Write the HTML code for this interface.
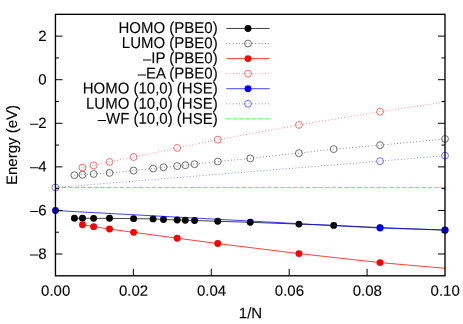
<!DOCTYPE html>
<html><head><meta charset="utf-8"><title>plot</title>
<style>html,body{margin:0;padding:0;background:#fff;overflow:hidden;}svg{display:block;position:absolute;left:0;top:0;will-change:transform;}text{font-family:"Liberation Sans",sans-serif;font-size:15px;fill:#000;stroke:#000;stroke-width:0.1px;text-rendering:geometricPrecision;}</style></head><body>
<svg width="463" height="324" viewBox="0 0 463 324">
<polyline points="74.43,218.15 82.5,218.15 93.64,218.35 109.55,218.3 133.61,218.65 153.09,218.9 163.51,219.5 177.18,220.0 185.3,220.2 194.57,220.5 217.76,221.25 250.23,222.3 298.92,224.1 333.7,225.4 380.07,227.6 445.0,230.15" fill="none" stroke="#000" stroke-width="0.75"/>
<g fill="#000"><circle cx="74.43" cy="218.15" r="3.45"/><circle cx="82.5" cy="218.15" r="3.45"/><circle cx="93.64" cy="218.35" r="3.45"/><circle cx="109.55" cy="218.3" r="3.45"/><circle cx="133.61" cy="218.65" r="3.45"/><circle cx="153.09" cy="218.9" r="3.45"/><circle cx="163.51" cy="219.5" r="3.45"/><circle cx="177.18" cy="220.0" r="3.45"/><circle cx="185.3" cy="220.2" r="3.45"/><circle cx="194.57" cy="220.5" r="3.45"/><circle cx="217.76" cy="221.25" r="3.45"/><circle cx="250.23" cy="222.3" r="3.45"/><circle cx="298.92" cy="224.1" r="3.45"/><circle cx="333.7" cy="225.4" r="3.45"/><circle cx="380.07" cy="227.6" r="3.45"/><circle cx="445.0" cy="230.15" r="3.45"/></g>
<polyline points="74.43,175.2 82.5,174.75 93.64,173.9 109.55,172.9 133.61,170.6 153.09,168.6 163.51,167.3 177.18,166.1 185.3,165.25 194.57,164.15 217.76,161.5 250.23,158.4 298.92,153.15 333.7,149.1 380.07,145.2 445.0,138.95" fill="none" stroke="#000" stroke-width="0.5" stroke-dasharray="0.9 2.31"/>
<g fill="none" stroke="#000" stroke-width="0.56"><circle cx="74.43" cy="175.2" r="3.45"/><circle cx="82.5" cy="174.75" r="3.45"/><circle cx="93.64" cy="173.9" r="3.45"/><circle cx="109.55" cy="172.9" r="3.45"/><circle cx="133.61" cy="170.6" r="3.45"/><circle cx="153.09" cy="168.6" r="3.45"/><circle cx="163.51" cy="167.3" r="3.45"/><circle cx="177.18" cy="166.1" r="3.45"/><circle cx="185.3" cy="165.25" r="3.45"/><circle cx="194.57" cy="164.15" r="3.45"/><circle cx="217.76" cy="161.5" r="3.45"/><circle cx="250.23" cy="158.4" r="3.45"/><circle cx="298.92" cy="153.15" r="3.45"/><circle cx="333.7" cy="149.1" r="3.45"/><circle cx="380.07" cy="145.2" r="3.45"/><circle cx="445.0" cy="138.95" r="3.45"/></g>
<polyline points="82.5,224.7 93.64,226.65 109.55,229.05 133.61,232.35 177.18,238.2 217.76,243.55 298.92,253.6 380.07,262.6 445.0,268.3" fill="none" stroke="#ff0000" stroke-width="0.75"/>
<g fill="#ff0000"><circle cx="82.5" cy="224.7" r="3.45"/><circle cx="93.64" cy="226.65" r="3.45"/><circle cx="109.55" cy="229.05" r="3.45"/><circle cx="133.61" cy="232.35" r="3.45"/><circle cx="177.18" cy="238.2" r="3.45"/><circle cx="217.76" cy="243.55" r="3.45"/><circle cx="298.92" cy="253.6" r="3.45"/><circle cx="380.07" cy="262.6" r="3.45"/></g>
<polyline points="82.5,167.7 93.64,165.4 109.55,161.9 133.61,157.05 177.18,147.9 217.76,139.65 298.92,124.9 380.07,111.65 445.0,102.15" fill="none" stroke="#ff0000" stroke-width="0.5" stroke-dasharray="0.9 2.31"/>
<g fill="none" stroke="#ff0000" stroke-width="0.56"><circle cx="82.5" cy="167.7" r="3.45"/><circle cx="93.64" cy="165.4" r="3.45"/><circle cx="109.55" cy="161.9" r="3.45"/><circle cx="133.61" cy="157.05" r="3.45"/><circle cx="177.18" cy="147.9" r="3.45"/><circle cx="217.76" cy="139.65" r="3.45"/><circle cx="298.92" cy="124.9" r="3.45"/><circle cx="380.07" cy="111.65" r="3.45"/></g>
<polyline points="55.45,210.55 380.07,228.05 445.0,229.95" fill="none" stroke="#0000ff" stroke-width="0.75"/>
<g fill="#0000ff"><circle cx="55.45" cy="210.55" r="3.45"/><circle cx="380.07" cy="228.05" r="3.45"/><circle cx="445.0" cy="229.95" r="3.45"/></g>
<polyline points="55.45,187.5 380.07,161.15 445.0,155.65" fill="none" stroke="#0000ff" stroke-width="0.5" stroke-dasharray="0.9 2.31"/>
<g fill="none" stroke="#0000ff" stroke-width="0.56"><circle cx="55.45" cy="187.5" r="3.45"/><circle cx="380.07" cy="161.15" r="3.45"/><circle cx="445.0" cy="155.65" r="3.45"/></g>
<path d="M55.6,187.45H445.0" fill="none" stroke="#00ff00" stroke-width="0.75" stroke-dasharray="4.28 2.14"/>
<g stroke="#000" stroke-width="1.0" fill="none">
<path d="M55.45,36.137499999999996h7M445.0,36.137499999999996h-7"/>
<path d="M55.45,57.925h3.5M445.0,57.925h-3.5"/>
<path d="M55.45,79.71249999999999h7M445.0,79.71249999999999h-7"/>
<path d="M55.45,101.49999999999999h3.5M445.0,101.49999999999999h-3.5"/>
<path d="M55.45,123.28749999999998h7M445.0,123.28749999999998h-7"/>
<path d="M55.45,145.075h3.5M445.0,145.075h-3.5"/>
<path d="M55.45,166.86249999999998h7M445.0,166.86249999999998h-7"/>
<path d="M55.45,188.64999999999998h3.5M445.0,188.64999999999998h-3.5"/>
<path d="M55.45,210.43749999999997h7M445.0,210.43749999999997h-7"/>
<path d="M55.45,232.22499999999997h3.5M445.0,232.22499999999997h-3.5"/>
<path d="M55.45,254.01249999999996h7M445.0,254.01249999999996h-7"/>
<path d="M133.36,275.8v-7"/>
<path d="M211.26999999999998,275.8v-7"/>
<path d="M289.18,275.8v-7"/>
<path d="M367.09,275.8v-7"/>
</g>
<rect x="55.45" y="14.35" width="389.55" height="261.45" fill="none" stroke="#000" stroke-width="1.35"/>
<text transform="translate(217.7,33.0) rotate(0.05) scale(1,1.05)" text-anchor="end">HOMO (PBE0)</text>
<path d="M226.3,28.45H269.7" stroke="#000" stroke-width="0.75" fill="none"/>
<circle cx="248" cy="28.45" r="3.45" fill="#000"/>
<text transform="translate(217.7,48.15) rotate(0.05) scale(1,1.05)" text-anchor="end">LUMO (PBE0)</text>
<path d="M226.3,43.519999999999996H269.7" stroke="#000" stroke-width="0.5" fill="none" stroke-dasharray="0.9 2.31"/>
<circle cx="248" cy="43.519999999999996" r="3.45" fill="none" stroke="#000" stroke-width="0.56"/>
<text transform="translate(217.7,63.3) rotate(0.05) scale(1,1.05)" text-anchor="end"><tspan dy="0.7" stroke="none">–</tspan><tspan dy="-0.7">IP (PBE0)</tspan></text>
<path d="M226.3,58.59H269.7" stroke="#ff0000" stroke-width="0.75" fill="none"/>
<circle cx="248" cy="58.59" r="3.45" fill="#ff0000"/>
<text transform="translate(217.7,78.45) rotate(0.05) scale(1,1.05)" text-anchor="end"><tspan dy="0.7" stroke="none">–</tspan><tspan dy="-0.7">EA (PBE0)</tspan></text>
<path d="M226.3,73.66H269.7" stroke="#ff0000" stroke-width="0.5" fill="none" stroke-dasharray="0.9 2.31"/>
<circle cx="248" cy="73.66" r="3.45" fill="none" stroke="#ff0000" stroke-width="0.56"/>
<text transform="translate(217.7,93.6) rotate(0.05) scale(1,1.05)" text-anchor="end">HOMO (10,0) (HSE)</text>
<path d="M226.3,88.73H269.7" stroke="#0000ff" stroke-width="0.75" fill="none"/>
<circle cx="248" cy="88.73" r="3.45" fill="#0000ff"/>
<text transform="translate(217.7,108.75) rotate(0.05) scale(1,1.05)" text-anchor="end">LUMO (10,0) (HSE)</text>
<path d="M226.3,103.8H269.7" stroke="#0000ff" stroke-width="0.5" fill="none" stroke-dasharray="0.9 2.31"/>
<circle cx="248" cy="103.8" r="3.45" fill="none" stroke="#0000ff" stroke-width="0.56"/>
<text transform="translate(217.7,123.9) rotate(0.05) scale(1,1.05)" text-anchor="end"><tspan dy="0.7" stroke="none">–</tspan><tspan dy="-0.7">WF (10,0) (HSE)</tspan></text>
<path d="M226.3,118.87H269.7" stroke="#00ff00" stroke-width="0.75" fill="none" stroke-dasharray="4.28 2.14"/>
<text transform="translate(46.7,40.887499999999996) rotate(0.05) scale(1,0.99)" text-anchor="end">2</text>
<text transform="translate(46.7,84.46249999999999) rotate(0.05) scale(1,0.99)" text-anchor="end">0</text>
<text transform="translate(46.7,128.03749999999997) rotate(0.05) scale(1,0.99)" text-anchor="end"><tspan stroke="none">–</tspan>2</text>
<text transform="translate(46.7,171.61249999999998) rotate(0.05) scale(1,0.99)" text-anchor="end"><tspan stroke="none">–</tspan>4</text>
<text transform="translate(46.7,215.18749999999997) rotate(0.05) scale(1,0.99)" text-anchor="end"><tspan stroke="none">–</tspan>6</text>
<text transform="translate(46.7,258.76249999999993) rotate(0.05) scale(1,0.99)" text-anchor="end"><tspan stroke="none">–</tspan>8</text>
<text transform="translate(55.650000000000006,295.8) rotate(0.05) scale(1,0.99)" text-anchor="middle">0.00</text>
<text transform="translate(133.56,295.8) rotate(0.05) scale(1,0.99)" text-anchor="middle">0.02</text>
<text transform="translate(211.46999999999997,295.8) rotate(0.05) scale(1,0.99)" text-anchor="middle">0.04</text>
<text transform="translate(289.38,295.8) rotate(0.05) scale(1,0.99)" text-anchor="middle">0.06</text>
<text transform="translate(367.28999999999996,295.8) rotate(0.05) scale(1,0.99)" text-anchor="middle">0.08</text>
<text transform="translate(445.19999999999993,295.8) rotate(0.05) scale(1,0.99)" text-anchor="middle">0.10</text>
<text transform="translate(250.5,318.35) rotate(0.05) scale(1,1.02)" text-anchor="middle">1/N</text>
<text transform="translate(17.0,145) rotate(-89.95) scale(1,1.01)" text-anchor="middle">Energy (eV)</text>
</svg></body></html>
